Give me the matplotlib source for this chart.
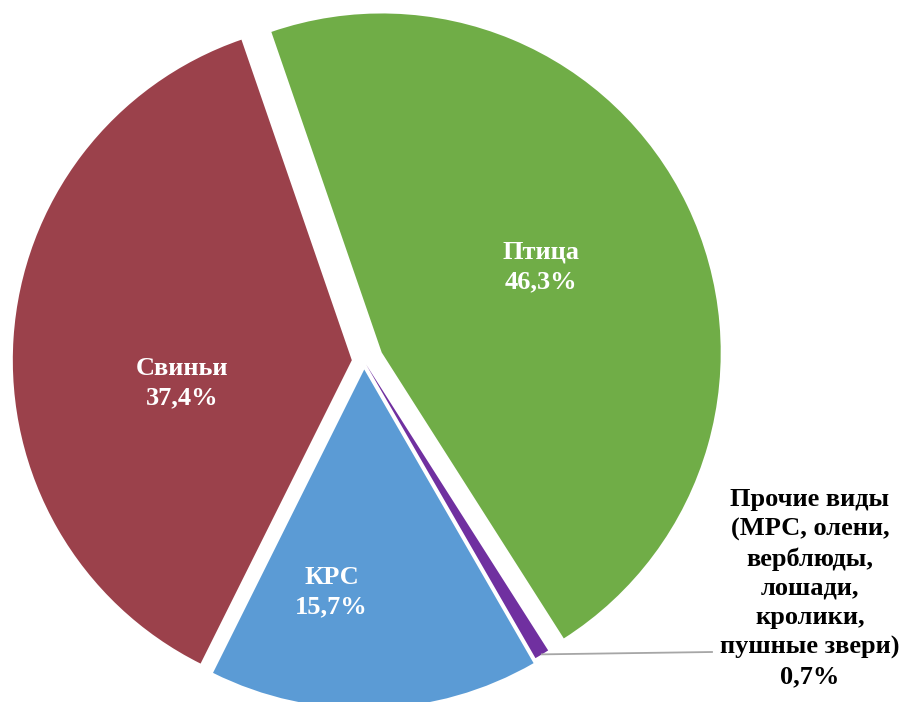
import matplotlib
matplotlib.use('Agg')
import numpy as np
import matplotlib.pyplot as plt

# ── data ─────────────────────────────────────────────────────────────
labels = ["Птица", "Прочие виды\n(МРС, олени,\nверблюды,\nлошади,\nкролики,\nпушные звери)", "КРС", "Свиньи"]
shares = [46.3, 0.7, 15.7, 37.4]
pct_text = ["46,3%", "0,7%", "15,7%", "37,4%"]

colors = ["#70AD47", "#7030A0", "#5B9BD5", "#9B414B"]
explode = [0.058, 0.012, 0.025, 0.036]

W, H = 900, 702
cx, cy, R = 364, 361, 339   # pie centre / radius in pixels

fig = plt.figure(figsize=(W / 100, H / 100), dpi=100)
ax = fig.add_axes([0, 0, 1, 1])

wedges, _ = ax.pie(shares, colors=colors, explode=explode, startangle=109,
                   counterclock=False, radius=1.0,
                   wedgeprops=dict(linewidth=0))
ax.set_aspect("auto")
ax.set_xlim(-cx / R, (W - cx) / R)
ax.set_ylim((cy - H) / R, cy / R)
ax.axis("off")

font = dict(family=["Liberation Serif", "DejaVu Serif"], fontweight="bold", fontsize=19,
            ha="center", va="center", linespacing=1.35)

# inside labels: (angle, distance) relative to pie centre
inside = {0: (28, 0.59), 2: (-98, 0.69), 3: (187, 0.54)}
for i, (ang, r) in inside.items():
    x, y = r * np.cos(np.radians(ang)), r * np.sin(np.radians(ang))
    ax.text(x, y, f"{labels[i]}\n{pct_text[i]}", color="white", **font)

# outside label for the tiny slice with a leader line
w = wedges[1]
mid = np.radians((w.theta1 + w.theta2) / 2)
ex = w.center[0] + w.r * np.cos(mid)
ey = w.center[1] + w.r * np.sin(mid)
lx, ly = (712 - cx) / R, (cy - 652) / R
ax.plot([ex, lx], [ey, ly], color="#A6A6A6", lw=1.3)
ax.text((810 - cx) / R, (cy - 588) / R, f"{labels[1]}\n{pct_text[1]}", color="black", **font)

plt.savefig("out.png", dpi=100)
